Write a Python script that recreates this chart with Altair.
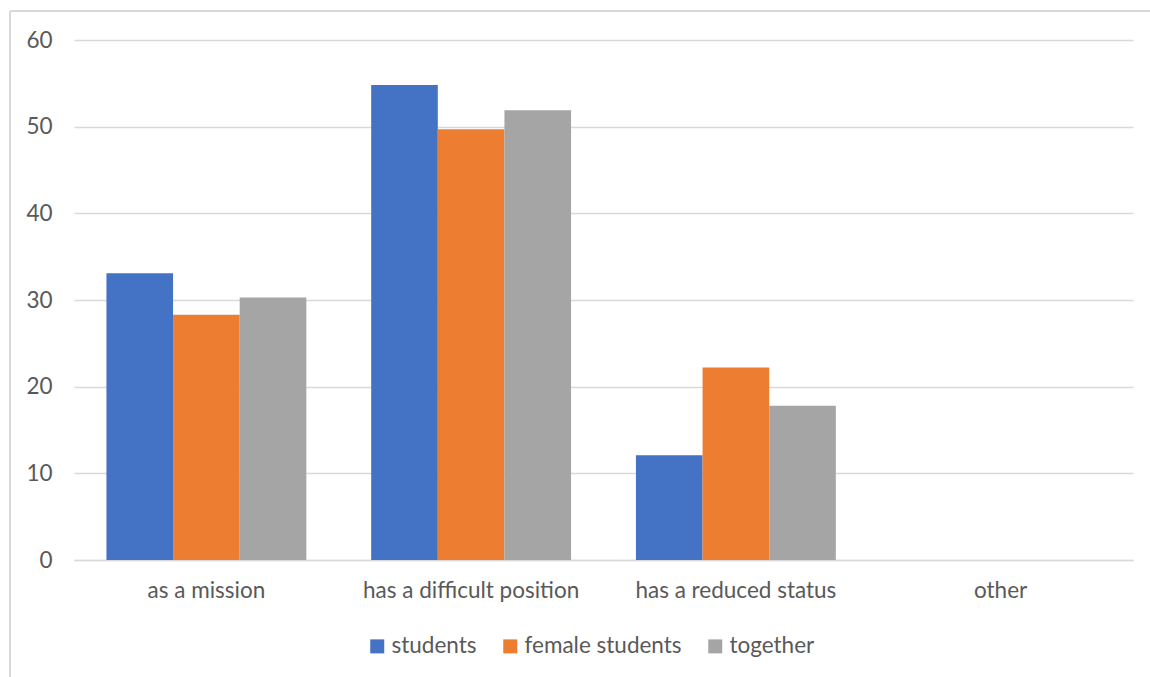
import altair as alt
import pandas as pd

# Survey answers: share of respondents (%) per answer and group
categories = ["as a mission", "has a difficult position", "has a reduced status", "other"]
groups = ["students", "female students", "together"]
students = [33.1, 54.8, 12.1, 0.0]
female_students = [28.3, 49.7, 22.2, 0.0]
together = [30.3, 51.9, 17.8, 0.0]

colors = ["#4472C4", "#ED7D31", "#A5A5A5"]
FONT = "Lato"
FS = 22.5
TEXT = "#595959"
GRID = "#D9D9D9"

rows = []
for series_name, values in zip(groups, [students, female_students, together]):
    for cat, v in zip(categories, values):
        rows.append({"answer": cat, "group": series_name, "value": v})
df = pd.DataFrame(rows)

bars = alt.Chart(df).mark_bar().encode(
    x=alt.X(
        "answer:N",
        sort=categories,
        scale=alt.Scale(paddingInner=0.245, paddingOuter=0.1225),
        axis=alt.Axis(
            title=None, labelAngle=0, labelFont=FONT, labelFontSize=FS,
            labelColor=TEXT, labelPadding=19, labelLimit=0, ticks=False,
            domainColor=GRID, domainWidth=1.5,
        ),
    ),
    xOffset=alt.XOffset("group:N", sort=groups, scale=alt.Scale(paddingInner=0, paddingOuter=0)),
    y=alt.Y(
        "value:Q",
        scale=alt.Scale(domain=[0, 60], nice=False),
        axis=alt.Axis(
            title=None, values=[0, 10, 20, 30, 40, 50, 60], labelFont=FONT,
            labelFontSize=FS, labelColor=TEXT, labelPadding=22, ticks=False,
            domain=False, gridColor=GRID, gridWidth=1.5,
        ),
    ),
    color=alt.Color(
        "group:N",
        sort=groups,
        scale=alt.Scale(domain=groups, range=colors),
        legend=alt.Legend(
            title=None, orient="none", direction="horizontal",
            legendX=292, legendY=595,
            symbolType="square", symbolSize=196, symbolStrokeWidth=0,
            labelFont=FONT, labelFontSize=FS, labelColor=TEXT,
            labelOffset=3, columnPadding=22, labelLimit=0,
        ),
    ),
)

# Thin outer frame along the top and left edges of the chart
frame_data = alt.Data(values=[{"k": 1}])
frame_left = alt.Chart(frame_data).mark_rule(color=GRID, strokeWidth=2).encode(
    x=alt.value(-64), y=alt.value(-29), y2=alt.value(700)
)
frame_top = alt.Chart(frame_data).mark_rule(color=GRID, strokeWidth=2).encode(
    x=alt.value(-64), x2=alt.value(1150), y=alt.value(-29)
)

chart = alt.layer(bars, frame_left, frame_top).properties(
    width=1059,
    height=520,
    autosize=alt.AutoSizeParams(type="none"),
    padding={"left": 74, "top": 40, "right": 17, "bottom": 117},
    background="white",
).configure_view(stroke=None)

chart.save("out.html", embed_options={"renderer": "svg", "actions": False})
